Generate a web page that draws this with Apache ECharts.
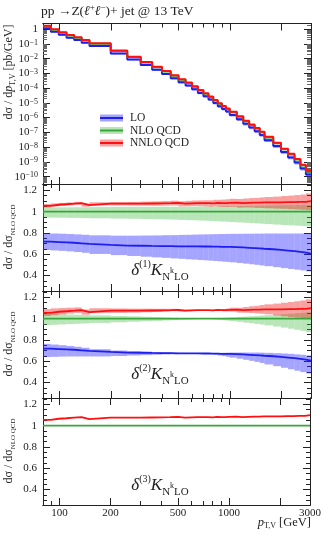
<!DOCTYPE html>
<html><head><meta charset="utf-8">
<script src="https://cdn.jsdelivr.net/npm/echarts@6/dist/echarts.min.js"></script>
<style>html,body{margin:0;padding:0;background:#fff}#c{width:324px;height:540px}</style>
</head><body><div id="c"></div>
<script>
// ---------------- data ----------------
const edges = [80, 89, 99, 110, 122, 135, 150, 200, 250, 300, 350, 400, 450, 500, 550, 600, 650, 700, 750, 800, 850, 900, 950, 1000, 1100, 1200, 1300, 1400, 1500, 1600, 1800, 2000, 2200, 2400, 2600, 2800, 3000];
const xTickMajor = [100, 200, 500, 1000, 2000];
const xTickMinor = [90, 300, 400, 600, 700, 800, 900];
const xTickLabels = [100, 200, 500, 1000, 3000];
const yDecades = [-10, -9, -8, -7, -6, -5, -4, -3, -2, -1, 0];
const ratioTicks = [0.4, 0.6, 0.8, 1.0, 1.2];
const ratioMinor = [0.3, 0.35, 0.45, 0.5, 0.55, 0.65, 0.7, 0.75, 0.85, 0.9, 0.95, 1.05, 1.1, 1.15, 1.25];

// dsigma/dpT [pb/GeV]
const nnloTop = [1.7, 1.0, 0.63, 0.41, 0.29, 0.186, 0.112, 0.0355, 0.0138, 0.0060, 0.00288, 0.00148, 7.6e-4, 4.1e-4, 2.4e-4, 1.35e-4, 7.6e-5, 4.6e-5, 2.7e-5, 1.6e-5, 9.5e-6, 6.3e-6, 4.2e-6, 2.5e-6, 1.26e-6, 6.3e-7, 3.5e-7, 2.0e-7, 1.12e-7, 5.0e-8, 2.0e-8, 7.9e-9, 3.5e-9, 1.6e-9, 6.3e-10, 2.5e-10];
const nloTop = [1.61, 0.939, 0.589, 0.381, 0.2685, 0.1751, 0.1042, 0.0330, 0.01284, 0.00557, 0.002672, 0.00137, 7.02e-4, 3.81e-4, 2.23e-4, 1.25e-4, 7.04e-5, 4.26e-5, 2.50e-5, 1.48e-5, 8.80e-6, 5.83e-6, 3.88e-6, 2.30e-6, 1.17e-6, 5.82e-7, 3.23e-7, 1.84e-7, 1.03e-7, 4.60e-8, 1.84e-8, 7.25e-9, 3.21e-9, 1.47e-9, 5.76e-10, 2.27e-10];
const loTop = [1.157, 0.671, 0.419, 0.270, 0.1888, 0.1221, 0.0717, 0.0225, 0.00873, 0.00378, 0.001809, 9.26e-4, 4.74e-4, 2.57e-4, 1.50e-4, 8.43e-5, 4.74e-5, 2.87e-5, 1.68e-5, 9.92e-6, 5.89e-6, 3.91e-6, 2.60e-6, 1.54e-6, 7.75e-7, 3.85e-7, 2.12e-7, 1.21e-7, 6.72e-8, 2.97e-8, 1.18e-8, 4.60e-9, 2.02e-9, 9.12e-10, 3.55e-10, 1.38e-10];

// ratios to NLO QCD (central)
const nnloRatio = [1.055, 1.065, 1.07, 1.075, 1.08, 1.062, 1.075, 1.075, 1.075, 1.077, 1.078, 1.08, 1.082, 1.075, 1.078, 1.08, 1.08, 1.08, 1.078, 1.082, 1.08, 1.08, 1.082, 1.085, 1.08, 1.083, 1.085, 1.085, 1.087, 1.088, 1.088, 1.09, 1.09, 1.092, 1.093, 1.1];
const nloRatio = [1, 1, 1, 1, 1, 1, 1, 1, 1, 1, 1, 1, 1, 1, 1, 1, 1, 1, 1, 1, 1, 1, 1, 1, 1, 1, 1, 1, 1, 1, 1, 1, 1, 1, 1, 1];
const loRatio = [0.718, 0.715, 0.712, 0.708, 0.703, 0.697, 0.688, 0.682, 0.68, 0.678, 0.677, 0.676, 0.675, 0.675, 0.674, 0.674, 0.673, 0.673, 0.672, 0.671, 0.67, 0.67, 0.669, 0.667, 0.664, 0.661, 0.658, 0.655, 0.652, 0.647, 0.641, 0.635, 0.629, 0.622, 0.615, 0.607];

// delta(1) bands
const nloBand1Hi = [1.040, 1.040, 1.041, 1.041, 1.042, 1.042, 1.043, 1.044, 1.045, 1.045, 1.046, 1.046, 1.047, 1.047, 1.048, 1.048, 1.049, 1.049, 1.050, 1.050, 1.051, 1.051, 1.052, 1.052, 1.053, 1.054, 1.055, 1.056, 1.057, 1.058, 1.059, 1.060, 1.061, 1.062, 1.063, 1.065];
const nloBand1Lo = [0.945, 0.944, 0.943, 0.942, 0.941, 0.940, 0.938, 0.935, 0.933, 0.931, 0.929, 0.927, 0.925, 0.923, 0.921, 0.919, 0.917, 0.915, 0.913, 0.911, 0.909, 0.907, 0.905, 0.902, 0.899, 0.896, 0.893, 0.890, 0.887, 0.883, 0.879, 0.875, 0.872, 0.869, 0.866, 0.862];
const nnloBand1Hi = [1.072, 1.078, 1.082, 1.087, 1.092, 1.076, 1.088, 1.09, 1.092, 1.095, 1.097, 1.1, 1.103, 1.098, 1.102, 1.105, 1.106, 1.107, 1.107, 1.112, 1.112, 1.114, 1.117, 1.121, 1.119, 1.124, 1.128, 1.13, 1.134, 1.138, 1.142, 1.147, 1.151, 1.156, 1.161, 1.172];
const nnloBand1Lo = [1.04, 1.05, 1.055, 1.06, 1.065, 1.047, 1.06, 1.058, 1.057, 1.057, 1.056, 1.057, 1.058, 1.05, 1.052, 1.053, 1.052, 1.05, 1.047, 1.05, 1.046, 1.044, 1.044, 1.045, 1.038, 1.04, 1.039, 1.036, 1.035, 1.032, 1.029, 1.027, 1.024, 1.021, 1.018, 1.015];
const loBand1Hi = [0.795, 0.795, 0.793, 0.79, 0.787, 0.783, 0.778, 0.775, 0.775, 0.776, 0.777, 0.779, 0.78, 0.782, 0.783, 0.785, 0.786, 0.787, 0.788, 0.789, 0.79, 0.79, 0.791, 0.792, 0.792, 0.793, 0.793, 0.794, 0.794, 0.795, 0.795, 0.795, 0.795, 0.795, 0.795, 0.795];
const loBand1Lo = [0.64, 0.636, 0.632, 0.627, 0.621, 0.614, 0.603, 0.592, 0.584, 0.577, 0.571, 0.566, 0.561, 0.557, 0.553, 0.55, 0.546, 0.543, 0.54, 0.537, 0.534, 0.531, 0.528, 0.524, 0.518, 0.512, 0.506, 0.501, 0.495, 0.488, 0.479, 0.47, 0.462, 0.455, 0.448, 0.44];

// delta(2) bands
const nloBand2Hi = [1.045, 1.043, 1.041, 1.039, 1.037, 1.035, 1.031, 1.026, 1.022, 1.018, 1.015, 1.012, 1.009, 1.006, 1.004, 1.002, 1.001, 1.0, 1.002, 1.004, 1.006, 1.008, 1.01, 1.013, 1.017, 1.02, 1.023, 1.026, 1.029, 1.033, 1.038, 1.043, 1.047, 1.051, 1.055, 1.06];
const nloBand2Lo = [0.94, 0.943, 0.946, 0.949, 0.952, 0.955, 0.96, 0.966, 0.971, 0.975, 0.979, 0.983, 0.986, 0.99, 0.993, 0.996, 0.998, 1.0, 0.997, 0.993, 0.99, 0.986, 0.982, 0.977, 0.97, 0.963, 0.957, 0.951, 0.945, 0.937, 0.926, 0.916, 0.906, 0.896, 0.886, 0.875];
const nnloBand2Hi = [1.09, 1.097, 1.1, 1.103, 1.106, 1.086, 1.098, 1.096, 1.094, 1.094, 1.093, 1.093, 1.093, 1.084, 1.085, 1.085, 1.083, 1.081, 1.081, 1.087, 1.088, 1.091, 1.096, 1.103, 1.103, 1.11, 1.117, 1.121, 1.128, 1.135, 1.142, 1.15, 1.157, 1.164, 1.171, 1.182];
const nnloBand2Lo = [1.025, 1.033, 1.04, 1.047, 1.054, 1.038, 1.052, 1.054, 1.056, 1.06, 1.063, 1.067, 1.071, 1.066, 1.071, 1.075, 1.077, 1.079, 1.075, 1.077, 1.072, 1.069, 1.068, 1.067, 1.057, 1.056, 1.053, 1.049, 1.046, 1.041, 1.03, 1.022, 1.015, 1.01, 1.005, 1.0];
const loBand2Hi = [0.763, 0.757, 0.751, 0.744, 0.736, 0.727, 0.713, 0.701, 0.695, 0.69, 0.686, 0.683, 0.68, 0.679, 0.677, 0.676, 0.674, 0.673, 0.675, 0.676, 0.678, 0.68, 0.681, 0.682, 0.682, 0.682, 0.682, 0.682, 0.681, 0.679, 0.676, 0.673, 0.67, 0.665, 0.661, 0.655];
const loBand2Lo = [0.64, 0.642, 0.644, 0.645, 0.645, 0.645, 0.645, 0.649, 0.654, 0.658, 0.661, 0.664, 0.666, 0.668, 0.669, 0.671, 0.672, 0.673, 0.667, 0.661, 0.654, 0.649, 0.642, 0.634, 0.624, 0.614, 0.604, 0.594, 0.584, 0.57, 0.554, 0.539, 0.525, 0.511, 0.498, 0.485];

// ---------------- styling ----------------
const SERIF = '"Liberation Serif","DejaVu Serif",serif';
const INK = '#222';
const BLUE = '#1e1ef0', GREEN = '#3aa63a', RED = '#ff1010';
const BLUEB = 'rgba(40,40,255,0.42)', GREENB = 'rgba(70,190,70,0.38)', REDB = 'rgba(240,20,20,0.40)';
const LX0 = Math.log10(80), LX1 = Math.log10(3000);
const RMIN = 0.255, RMAX = 1.26;

const grids = [
  {left: 43, top: 23.5, width: 268, height: 160.5},
  {left: 43, top: 184, width: 268, height: 107},
  {left: 43, top: 291, width: 268, height: 107},
  {left: 43, top: 398, width: 268, height: 107}
];

const xAxes = [], yAxes = [];
function xAx(g, pos, major, showLabel) {
  return {
    gridIndex: g, type: 'value', position: pos, min: LX0, max: LX1,
    axisLine: {show: true, onZero: false, lineStyle: {color: INK, width: 1}},
    axisTick: {show: true, inside: true, length: major ? 7 : 4,
      customValues: (major ? xTickMajor : xTickMinor).map(Math.log10),
      lineStyle: {color: INK, width: 1}},
    axisLabel: {show: showLabel, customValues: xTickLabels.map(Math.log10),
      formatter: v => String(Math.round(Math.pow(10, v))),
      margin: 3, fontFamily: SERIF, fontSize: 11, color: INK},
    splitLine: {show: false}
  };
}
function yAx(g, pos, major, showLabel, top) {
  const ax = {
    gridIndex: g, type: 'value', position: pos,
    min: top ? -10.5 : RMIN, max: top ? 0.39 : RMAX,
    axisLine: {show: true, onZero: false, lineStyle: {color: INK, width: 1}},
    splitLine: {show: false}
  };
  if (top) {
    const minor = [];
    yDecades.concat([-11]).forEach(d => { for (let k = 2; k <= 9; k++) { const v = d + Math.log10(k); if (v > -10.5 && v < 0.39) minor.push(v); } });
    ax.axisTick = {show: true, inside: true, length: major ? 7 : 4, customValues: major ? yDecades : minor, lineStyle: {color: major ? INK : '#666', width: 1}};
    ax.axisLabel = {show: showLabel, customValues: yDecades, margin: 5,
      formatter: v => v === 0 ? '1' : '10{s|−' + (-v) + '}',
      fontFamily: SERIF, fontSize: 11, color: INK,
      rich: {s: {fontFamily: SERIF, fontSize: 8, verticalAlign: 'top', lineHeight: 9, color: INK}}};
  } else {
    ax.axisTick = {show: true, inside: true, length: major ? 7 : 4, customValues: major ? ratioTicks : ratioMinor, lineStyle: {color: INK, width: 1}};
    ax.axisLabel = {show: showLabel, customValues: ratioTicks, margin: 6,
      formatter: v => (Math.abs(v - 1) < 1e-9 ? '1' : v.toFixed(1)),
      fontFamily: SERIF, fontSize: 11, color: INK};
  }
  return ax;
}
for (let g = 0; g < 4; g++) {
  xAxes.push(xAx(g, 'bottom', true, g === 3));
  xAxes.push(xAx(g, 'bottom', false, false));
  xAxes.push(xAx(g, 'top', true, false));
  xAxes.push(xAx(g, 'top', false, false));
  yAxes.push(yAx(g, 'left', true, true, g === 0));
  yAxes.push(yAx(g, 'left', false, false, g === 0));
  yAxes.push(yAx(g, 'right', true, false, g === 0));
  yAxes.push(yAx(g, 'right', false, false, g === 0));
}

// ---------------- series builders ----------------
function stepLine(name, g, vals, color, logY, width) {
  return {
    name: name, type: 'line', xAxisIndex: 4 * g, yAxisIndex: 4 * g, step: 'end',
    showSymbol: false, symbol: 'none', silent: true, z: 5,
    lineStyle: {color: color, width: width || 1.8}, itemStyle: {color: color},
    data: edges.map((e, i) => {
      const v = vals[Math.min(i, vals.length - 1)];
      return [Math.log10(e), logY ? Math.log10(v) : v];
    })
  };
}
function band(name, g, lo, hi, color, logY) {
  const data = lo.map((l, i) => [Math.log10(edges[i]), Math.log10(edges[i + 1]),
    logY ? Math.log10(l) : l, logY ? Math.log10(hi[i]) : hi[i]]);
  return {
    name: name, type: 'custom', xAxisIndex: 4 * g, yAxisIndex: 4 * g, silent: true, z: 2,
    clip: true, itemStyle: {color: color},
    encode: {x: [0, 1], y: [2, 3]},
    renderItem: (params, api) => {
      const p0 = api.coord([api.value(0), api.value(3)]);
      const p1 = api.coord([api.value(1), api.value(2)]);
      return {type: 'rect', shape: {x: p0[0], y: p0[1], width: p1[0] - p0[0], height: p1[1] - p0[1]},
        style: {fill: color}};
    },
    data: data
  };
}
// top-panel bands from relative delta(1) widths
const rel = (top, c, b) => top.map((t, i) => t * b[i] / c[i]);

const series = [
  band('LO band', 0, rel(loTop, loRatio, loBand1Lo), rel(loTop, loRatio, loBand1Hi), BLUEB, true),
  band('NLO QCD band', 0, rel(nloTop, nloRatio, nloBand1Lo), rel(nloTop, nloRatio, nloBand1Hi), GREENB, true),
  band('NNLO QCD band', 0, rel(nnloTop, nnloRatio, nnloBand1Lo), rel(nnloTop, nnloRatio, nnloBand1Hi), REDB, true),
  stepLine('LO', 0, loTop, BLUE, true, 2),
  stepLine('NLO QCD', 0, nloTop, GREEN, true, 2),
  stepLine('NNLO QCD', 0, nnloTop, RED, true, 2),

  band('LO d1', 1, loBand1Lo, loBand1Hi, BLUEB),
  band('NLO d1', 1, nloBand1Lo, nloBand1Hi, GREENB),
  band('NNLO d1', 1, nnloBand1Lo, nnloBand1Hi, REDB),
  stepLine('LO', 1, loRatio, BLUE),
  stepLine('NLO QCD', 1, nloRatio, GREEN),
  stepLine('NNLO QCD', 1, nnloRatio, RED),

  band('LO d2', 2, loBand2Lo, loBand2Hi, BLUEB),
  band('NLO d2', 2, nloBand2Lo, nloBand2Hi, GREENB),
  band('NNLO d2', 2, nnloBand2Lo, nnloBand2Hi, REDB),
  stepLine('LO', 2, loRatio, BLUE),
  stepLine('NLO QCD', 2, nloRatio, GREEN),
  stepLine('NNLO QCD', 2, nnloRatio, RED),

  stepLine('NLO QCD', 3, nloRatio, GREEN),
  stepLine('NNLO QCD', 3, nnloRatio, RED)
];

const legendCommon = {
  orient: 'vertical', left: 95, top: 107, itemWidth: 23, itemGap: 0.5, icon: 'rect',
  selectedMode: false,
  textStyle: {fontFamily: SERIF, fontSize: 11.5, lineHeight: 12, color: INK, padding: [0, 0, 0, 2]},
  formatter: n => n.replace(' band', '')
};

const T = (o) => Object.assign({fontFamily: SERIF, fontWeight: 'normal', color: INK}, o);
const deltaRich = {
  d: T({fontSize: 17, fontStyle: 'italic', lineHeight: 24}),
  p: T({fontSize: 10, verticalAlign: 'top', lineHeight: 11}),
  s: T({fontSize: 11, verticalAlign: 'bottom', lineHeight: 11}),
  k: T({fontSize: 8, verticalAlign: 'middle', lineHeight: 8})
};
function deltaTitle(n, cy) {
  return {text: '{d|δ}{p|(' + n + ')}{d|K}{s|N}{k|k}{s|LO}', left: 160, top: cy - 12, textAlign: 'center',
    padding: 0, textStyle: {fontWeight: 'normal', rich: deltaRich}};
}

const opt = {
  animation: false,
  backgroundColor: '#fff',
  grid: grids,
  xAxis: xAxes,
  yAxis: yAxes,
  legend: [
    Object.assign({}, legendCommon, {data: ['LO band', 'NLO QCD band', 'NNLO QCD band'], itemHeight: 7}),
    Object.assign({}, legendCommon, {data: ['LO', 'NLO QCD', 'NNLO QCD'], itemHeight: 2,
      textStyle: Object.assign({}, legendCommon.textStyle, {color: 'rgba(0,0,0,0)'})})
  ],
  title: [
    {text: '{n|pp →Z(}{i|ℓ}{u|+}{i|ℓ}{u|−}{n|)+ jet @ 13 TeV}', left: 41, top: 3, padding: 0,
      textStyle: {fontWeight: 'normal', rich: {
        n: T({fontSize: 13.5, lineHeight: 17}),
        i: T({fontSize: 13.5, fontStyle: 'italic', lineHeight: 17}),
        u: T({fontSize: 9, verticalAlign: 'top', lineHeight: 10})}}},
    deltaTitle(1, 271),
    deltaTitle(2, 375),
    deltaTitle(3, 486),
    {text: '{i|p}{s|T,V}{n| [GeV]}', right: 13, top: 515, padding: 0,
      textStyle: {fontWeight: 'normal', rich: {
        n: T({fontSize: 12.5, lineHeight: 15}),
        i: T({fontSize: 12.5, fontStyle: 'italic', lineHeight: 15}),
        s: T({fontSize: 8, verticalAlign: 'bottom', lineHeight: 9})}}}
  ],
  graphic: [
    {type: 'text', x: 9, y: 72, rotation: Math.PI / 2, style: {
      text: '{n|dσ / d}{i|p}{s|T,V}{n| [pb/GeV]}', align: 'center', verticalAlign: 'middle',
      rich: {n: {fontFamily: SERIF, fontSize: 12, fill: INK, lineHeight: 15},
             i: {fontFamily: SERIF, fontSize: 12, fontStyle: 'italic', fill: INK, lineHeight: 15},
             s: {fontFamily: SERIF, fontSize: 8, fill: INK, verticalAlign: 'bottom', lineHeight: 9}}}},
  ].concat([237, 344, 451].map(cy => ({type: 'text', x: 9, y: cy, rotation: Math.PI / 2, style: {
      text: '{n|dσ / dσ}{s|NLO QCD}', align: 'center', verticalAlign: 'middle',
      rich: {n: {fontFamily: SERIF, fontSize: 12, fill: INK, lineHeight: 15},
             s: {fontFamily: SERIF, fontSize: 7, fill: INK, verticalAlign: 'bottom', lineHeight: 8}}}}))),
  series: series
};

const chart = echarts.init(document.getElementById('c'), null, {renderer: 'canvas'});
chart.setOption(opt);
</script>
</body></html>
